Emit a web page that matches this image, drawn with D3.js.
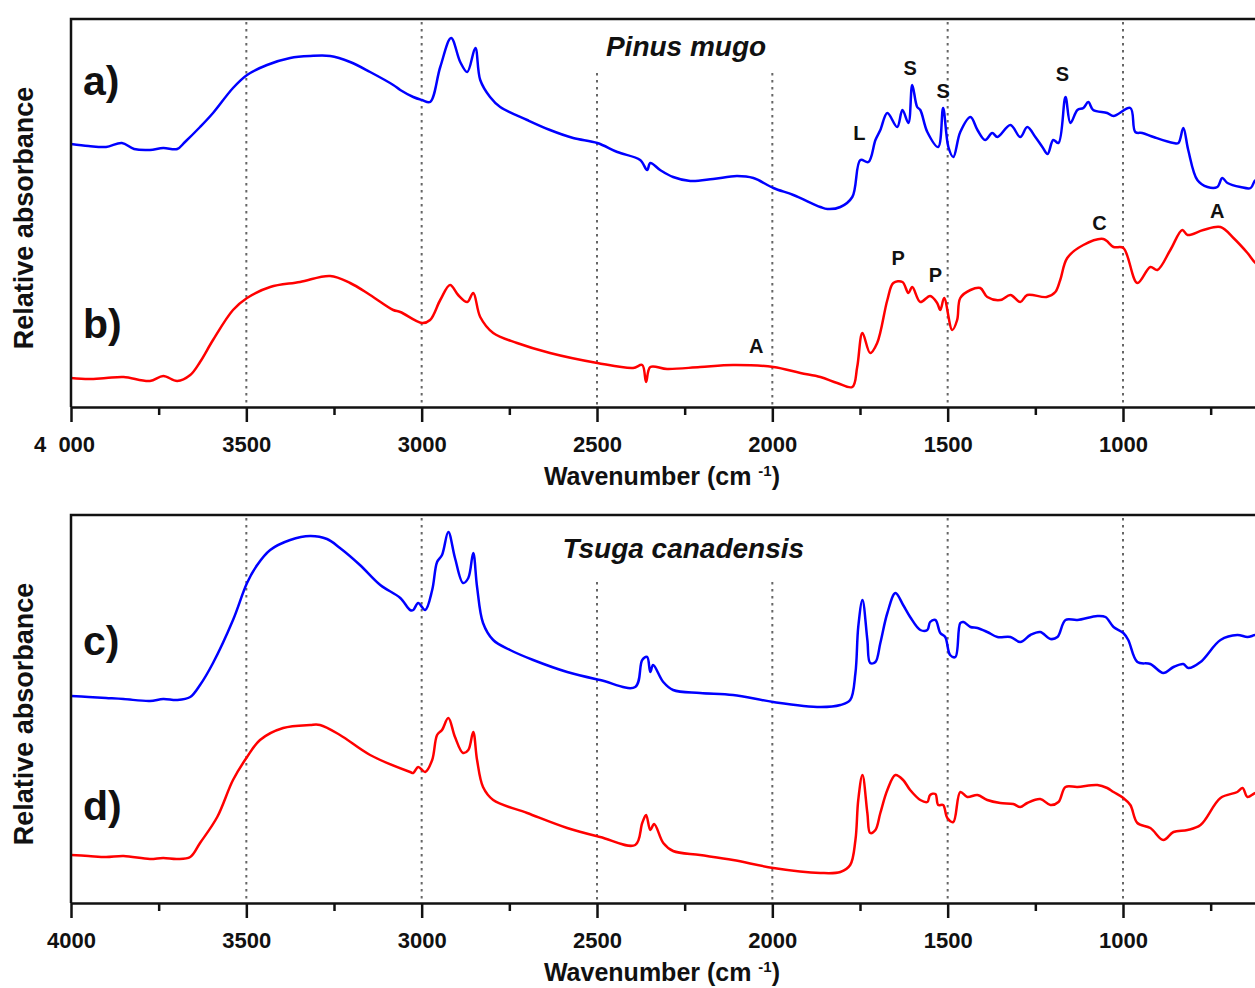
<!DOCTYPE html>
<html>
<head>
<meta charset="utf-8">
<script src="https://cdn.jsdelivr.net/npm/d3@7"></script>
<style>
  body { margin: 0; background: #fff; }
  svg { display: block; font-family: "Liberation Sans", Arial, sans-serif; }
  .frame { stroke: #111; stroke-width: 2.5; fill: none; }
  .grid { stroke: #666; stroke-width: 2; stroke-dasharray: 2.5,4.5; }
  .curve { fill: none; stroke-width: 2.5; stroke-linejoin: round; }
  .axis text { font-size: 22px; font-weight: bold; fill: #111; }
  .axis line, .axis path { stroke: #111; stroke-width: 2.5; }
</style>
</head>
<body>
<script>
// wavenumber (cm-1), relative absorbance (arbitrary units, 0 = panel floor)
var pinusA = [[4000,263],[3950,261],[3900,260],[3855,264],[3820,258],[3775,257],[3737,259],[3697,258],[3675,265],
  [3632,280],[3595,294],[3538,319],[3498,332],[3441,342],[3375,349],[3318,351],[3261,351],[3204,345],[3147,335],
  [3081,322],[3061,317],[3024,310],[2999,307],[2976,305],[2947,340],[2916,369],[2890,345],[2870,335],[2847,359],
  [2833,327],[2805,310],[2776,300],[2699,287],[2634,277],[2568,269],[2499,264],[2442,255],[2377,247],[2357,237],
  [2348,244],[2320,237],[2283,230],[2234,226],[2169,228],[2101,231],[2054,229],[1997,219],[1940,212],[1863,200],
  [1843,198],[1806,200],[1772,210],[1749,247],[1726,245],[1706,267],[1692,277],[1672,294],[1644,280],[1629,297],
  [1612,284],[1601,322],[1587,300],[1578,297],[1558,275],[1527,260],[1513,299],[1498,260],[1484,250],[1464,275],
  [1435,290],[1415,277],[1393,267],[1373,274],[1358,270],[1321,282],[1293,270],[1273,280],[1250,270],[1230,260],
  [1215,253],[1199,267],[1184,264],[1164,310],[1150,284],[1130,297],[1113,299],[1099,305],[1085,297],[1045,294],
  [1027,291],[979,299],[965,275],[945,274],[913,270],[856,264],[842,264],[828,279],[814,257],[788,227],[759,220],
  [731,220],[717,229],[702,224],[665,220],[636,219],[622,227],[600,225]];

var pinusB = [[4000,29],[3950,28],[3900,29],[3850,30],[3775,26],[3737,31],[3697,26],[3660,32],[3632,45],[3595,67],
  [3538,97],[3498,109],[3432,120],[3347,125],[3261,131],[3204,124],[3147,112],[3081,97],[3061,95],[2999,84],
  [2976,87],[2947,107],[2919,122],[2896,112],[2870,105],[2853,114],[2833,90],[2796,74],[2728,64],[2634,54],
  [2499,44],[2397,39],[2371,42],[2360,25],[2348,40],[2300,38],[2206,40],[2112,42],[1997,40],[1920,34],[1863,30],
  [1815,24],[1772,20],[1758,40],[1743,74],[1721,54],[1701,64],[1672,107],[1655,124],[1629,125],[1612,114],
  [1601,120],[1578,105],[1550,111],[1530,104],[1521,97],[1510,109],[1487,77],[1473,87],[1464,109],[1435,117],
  [1407,119],[1387,110],[1350,107],[1321,112],[1293,105],[1273,112],[1218,110],[1193,115],[1179,127],[1159,149],
  [1113,162],[1056,168],[1027,160],[999,159],[959,124],[922,140],[902,137],[865,157],[831,177],[816,172],
  [771,177],[722,180],[685,169],[645,154],[622,144],[600,140]];

var tsugaC = [[4000,207],[3950,206],[3900,205],[3850,204],[3775,202],[3737,204],[3697,203],[3660,206],[3632,218],
  [3595,240],[3538,283],[3498,320],[3469,338],[3432,353],[3375,363],[3318,367],[3270,364],[3233,355],[3176,338],
  [3118,318],[3061,305],[3033,293],[3024,293],[3010,300],[2990,293],[2970,313],[2956,341],[2942,348],[2924,371],
  [2905,345],[2882,320],[2867,325],[2853,350],[2842,316],[2825,280],[2796,263],[2748,253],[2682,243],[2585,231],
  [2491,223],[2391,216],[2371,243],[2357,246],[2348,231],[2340,238],[2311,221],[2283,213],[2206,210],[2112,208],
  [1997,201],[1863,196],[1806,198],[1778,203],[1763,230],[1755,276],[1743,303],[1729,263],[1721,240],[1706,241],
  [1692,260],[1672,290],[1649,310],[1627,298],[1607,286],[1578,273],[1558,273],[1550,281],[1535,283],[1521,270],
  [1507,266],[1493,248],[1478,246],[1464,280],[1455,281],[1435,276],[1415,275],[1387,271],[1358,266],[1321,266],
  [1293,261],[1264,268],[1236,271],[1207,264],[1187,266],[1164,283],[1130,283],[1073,287],[1050,286],[1027,276],
  [999,270],[985,263],[959,241],[922,239],[885,230],[856,236],[828,239],[814,235],[779,241],[722,263],[674,268],
  [645,266],[622,268],[600,268]];

var tsugaD = [[4000,48],[3950,47],[3900,46],[3850,47],[3775,44],[3737,45],[3697,44],[3660,46],[3632,60],[3583,86],
  [3538,123],[3498,146],[3461,163],[3395,175],[3318,178],[3290,178],[3233,168],[3147,148],[3033,131],[3024,130],
  [3010,136],[2990,131],[2970,143],[2956,168],[2942,173],[2924,185],[2905,166],[2882,150],[2867,153],[2853,171],
  [2842,143],[2825,116],[2796,103],[2699,90],[2585,75],[2491,66],[2391,58],[2371,80],[2360,88],[2348,73],
  [2337,79],[2311,60],[2283,52],[2206,48],[2112,43],[1997,35],[1863,30],[1806,31],[1778,38],[1763,63],[1755,103],
  [1743,128],[1729,90],[1721,70],[1706,73],[1692,90],[1672,113],[1649,128],[1627,123],[1607,113],[1578,103],
  [1558,101],[1550,108],[1535,109],[1527,98],[1513,98],[1501,85],[1484,81],[1464,111],[1444,106],[1415,108],
  [1387,103],[1350,100],[1313,99],[1293,96],[1273,100],[1236,104],[1207,98],[1184,101],[1164,116],[1130,116],
  [1073,118],[1045,115],[1027,111],[999,105],[979,98],[959,80],[922,75],[885,63],[856,71],[816,73],[779,78],
  [722,105],[674,111],[659,115],[645,106],[622,110],[600,110]];

// band assignments [label, wavenumber, absorbance at text baseline]
var pinusMarks = [["L",1752,267],["S",1607,332],["S",1513,309],["S",1173,326],
  ["P",1641,142],["P",1535,125],["C",1067,177],["A",731,189],["A",2046,54]];

var majorTicks = [4000, 3500, 3000, 2500, 2000, 1500, 1000];
var minorTicks = [3750, 3250, 2750, 2250, 1750, 1250, 750];
var gridTicks = [3500, 3000, 2500, 2000, 1500, 1000];

var width = 1255, height = 988;
var svg = d3.select("body").append("svg")
  .attr("width", width)
  .attr("height", height);

var x = d3.scaleLinear().domain([4000, 400]).range([71, 1333.4]);

var panels = [
  {top: 19, bottom: 407, title: "Pinus mugo", titleAt: [2246, 351], gridStart: 334,
   series: [{data: pinusA, color: "#0000ff", tag: "a)", tagAt: 312},
            {data: pinusB, color: "#ff0000", tag: "b)", tagAt: 69}],
   marks: pinusMarks, firstLabel: "4\u00a0\u00a0000"},
  {top: 515, bottom: 903, title: "Tsuga canadensis", titleAt: [2254, 345], gridStart: 321,
   series: [{data: tsugaC, color: "#0000ff", tag: "c)", tagAt: 248},
            {data: tsugaD, color: "#ff0000", tag: "d)", tagAt: 83}],
   marks: [], firstLabel: "4000"}
];

panels.forEach(function (p, i) {
  var y = d3.scaleLinear().domain([0, 388]).range([p.bottom, p.top]);
  var g = svg.append("g");

  g.append("clipPath").attr("id", "clip" + i)
    .append("rect")
    .attr("x", x(4000)).attr("y", p.top)
    .attr("width", x(400) - x(4000)).attr("height", p.bottom - p.top);

  // dotted guides
  g.selectAll(".grid")
    .data(gridTicks)
    .enter().append("line")
    .attr("class", "grid")
    .attr("x1", function (d) { return x(d); })
    .attr("x2", function (d) { return x(d); })
    .attr("y1", function (d) { return (d === 2500 || d === 2000) ? y(p.gridStart) : p.top + 3; })
    .attr("y2", p.bottom);

  // spectra
  var line = d3.line()
    .curve(d3.curveCatmullRom.alpha(0.5))
    .x(function (d) { return x(d[0]); })
    .y(function (d) { return y(d[1]); });
  g.append("g").attr("clip-path", "url(#clip" + i + ")")
    .selectAll("path")
    .data(p.series)
    .enter().append("path")
    .attr("class", "curve")
    .attr("stroke", function (d) { return d.color; })
    .attr("d", function (d) { return line(d.data); });

  // frame
  g.append("path").attr("class", "frame")
    .attr("d", "M" + x(4000) + "," + p.bottom + "V" + p.top + "H" + x(400) + "V" + p.bottom);

  // x axis
  var major = d3.axisBottom(x)
    .tickValues(majorTicks)
    .tickSize(15).tickSizeOuter(0).tickPadding(14)
    .tickFormat(function (d) { return d === 4000 ? p.firstLabel : d; });
  var ax = g.append("g").attr("class", "axis")
    .attr("transform", "translate(0," + p.bottom + ")")
    .call(major);
  ax.selectAll("text").attr("dx", function (d) { return (d === 4000 && i === 0) ? -7 : 0; });
  g.append("g").attr("class", "axis")
    .attr("transform", "translate(0," + p.bottom + ")")
    .call(d3.axisBottom(x).tickValues(minorTicks.concat([500])).tickSize(8).tickSizeOuter(0).tickFormat(""))
    .select(".domain").remove();

  // axis titles
  var xt = g.append("text")
    .attr("x", 662).attr("y", p.bottom + 78)
    .attr("text-anchor", "middle")
    .style("font-size", "25px").style("font-weight", "bold").style("fill", "#111");
  xt.append("tspan").text("Wavenumber (cm ");
  xt.append("tspan").attr("dy", -9).style("font-size", "15px").text("-1");
  xt.append("tspan").attr("dy", 9).text(")");

  g.append("text")
    .attr("transform", "translate(33," + ((p.top + p.bottom) / 2 + 5) + ") rotate(-90)")
    .attr("text-anchor", "middle")
    .style("font-size", "27px").style("font-weight", "bold").style("fill", "#111")
    .text("Relative absorbance");

  // panel title
  g.append("text")
    .attr("x", x(p.titleAt[0])).attr("y", y(p.titleAt[1]))
    .attr("text-anchor", "middle")
    .style("font-size", "28px").style("font-weight", "bold").style("font-style", "italic")
    .style("fill", "#111")
    .text(p.title);

  // trace tags a) b) ...
  g.selectAll(".tag")
    .data(p.series)
    .enter().append("text")
    .attr("class", "tag")
    .attr("x", x(3966))
    .attr("y", function (d) { return y(d.tagAt); })
    .style("font-size", "41px").style("font-weight", "bold").style("fill", "#111")
    .text(function (d) { return d.tag; });

  // band letters
  g.selectAll(".mark")
    .data(p.marks)
    .enter().append("text")
    .attr("class", "mark")
    .attr("x", function (d) { return x(d[1]); })
    .attr("y", function (d) { return y(d[2]); })
    .attr("text-anchor", "middle")
    .style("font-size", "20px").style("font-weight", "bold").style("fill", "#111")
    .text(function (d) { return d[0]; });
});
</script>
</body>
</html>
